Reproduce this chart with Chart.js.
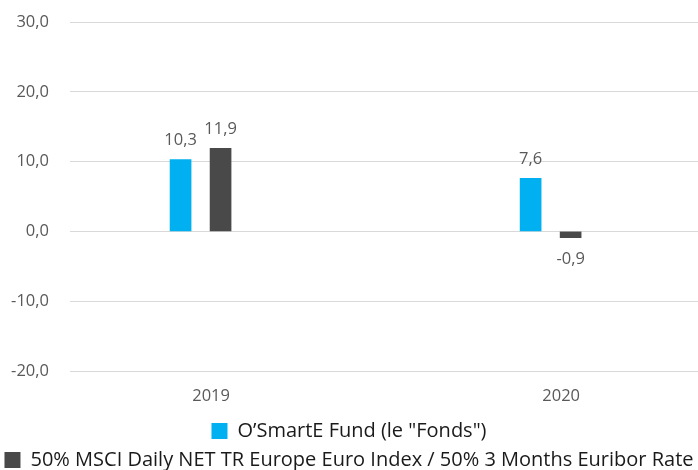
<!DOCTYPE html>
<html>
<head>
<meta charset="utf-8">
<script src="https://cdn.jsdelivr.net/npm/chart.js@4"></script>
<style>
  html, body { margin: 0; padding: 0; background: #fff; overflow: hidden; }
  #wrap { width: 698px; height: 480px; }
</style>
</head>
<body>
<div id="wrap"><canvas id="chart"></canvas></div>
<script>
const years = [2019, 2020];
const fundValues = [10.3, 7.6];
const benchValues = [11.9, -0.9];
const seriesNames = ['O\u2019SmartE Fund (le "Fonds")', '50% MSCI Daily NET TR Europe Euro Index / 50% 3 Months Euribor Rate'];
const yTicks = [30, 20, 10, 0, -10, -20];

const fmt = v => v.toFixed(1).replace('.', ',');
const FONT = '"Open Sans"';

// valeurs affichées au-dessus / en dessous des barres
const valueLabels = {
  id: 'valueLabels',
  afterDatasetsDraw(chart) {
    const ctx = chart.ctx;
    ctx.save();
    ctx.font = '16.5px ' + FONT;
    ctx.fillStyle = '#595959';
    ctx.textAlign = 'center';
    ctx.textBaseline = 'middle';
    chart.data.datasets.forEach((ds, i) => {
      chart.getDatasetMeta(i).data.forEach((bar, j) => {
        const v = ds.data[j].y;
        const y = v >= 0 ? bar.y - 19 : bar.y + 22;
        ctx.fillText(fmt(v), bar.x, y);
      });
    });
    ctx.restore();
  }
};

new Chart(document.getElementById('chart').getContext('2d'), {
  type: 'bar',
  data: {
    datasets: [
      {
        label: seriesNames[0],
        data: years.map((x, i) => ({ x: x, y: fundValues[i] })),
        backgroundColor: '#00b0f0',
      },
      {
        label: seriesNames[1],
        data: years.map((x, i) => ({ x: x, y: benchValues[i] })),
        backgroundColor: '#494949',
      },
    ],
  },
  options: {
    responsive: true,
    maintainAspectRatio: false,
    animation: false,
    barThickness: 40,
    maxBarThickness: 21,
    layout: { padding: { top: 22, right: 0, left: 0, bottom: 0 } },
    plugins: {
      tooltip: { enabled: false },
      legend: {
        position: 'bottom',
        labels: {
          boxWidth: 16,
          boxHeight: 16,
          padding: 9,
          color: '#1a1a1a',
          font: { family: FONT, size: 20 },
        },
      },
    },
    scales: {
      x: {
        type: 'linear',
        offset: false,
        min: 2018.627,
        max: 2020.421,
        afterBuildTicks: s => { s.ticks = years.map(v => ({ value: v })); },
        afterFit: s => { s.height = 41; },
        grid: { display: false },
        border: { display: false },
        ticks: {
          callback: v => String(v),
          labelOffset: 10.5,
          padding: 7,
          color: '#595959',
          font: { family: FONT, size: 16.5 },
        },
      },
      y: {
        min: -20,
        max: 30,
        afterBuildTicks: s => { s.ticks = yTicks.map(v => ({ value: v })); },
        afterFit: s => { s.width = 70; s.paddingTop = 0; s.paddingBottom = 0; },
        grid: { color: '#d9d9d9', lineWidth: 1, drawTicks: false },
        border: { display: false },
        ticks: {
          callback: v => fmt(v),
          padding: 21,
          color: '#595959',
          font: { family: FONT, size: 16.5 },
        },
      },
    },
  },
  plugins: [valueLabels],
});
</script>
</body>
</html>
